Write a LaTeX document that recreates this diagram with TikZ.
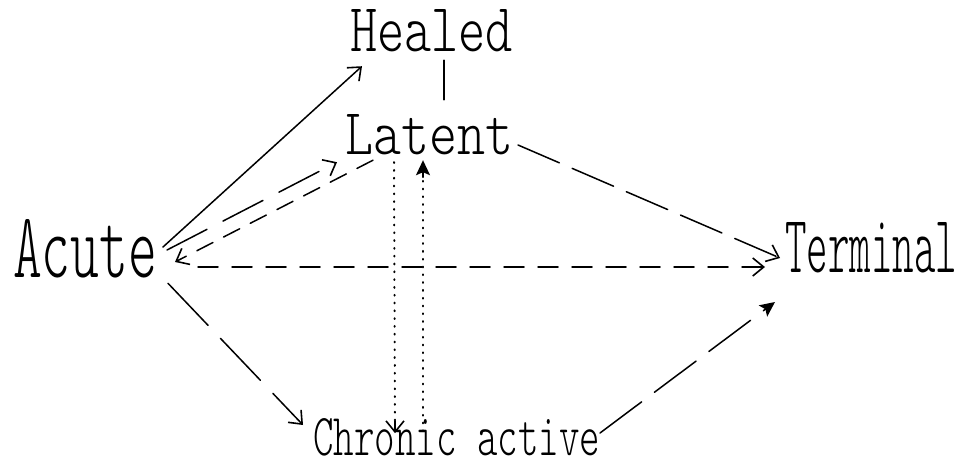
\documentclass[tikz,border=0pt]{standalone}
\usepackage{fontspec}
\usepackage{graphicx}
\usetikzlibrary{arrows.meta}
\newfontfamily\handfont{Latin Modern Mono Light}
\newcommand\handtext[3]{\resizebox{#1pt}{#2pt}{\handfont #3}}
\begin{document}
\begin{tikzpicture}[x=1pt,y=-1pt,
  lbl/.style={inner sep=0pt,outer sep=0pt},
  conn/.style={line width=1.5pt,line cap=round},
  barb/.style={-{Straight Barb[length=11pt,width=18pt,line width=1.6pt]}},
  solidhead/.style={-{Stealth[length=15pt,width=14pt,inset=3pt]}},
  longdash/.style={dash pattern=on 45pt off 18pt},
  shortdash/.style={dash pattern=on 18pt off 12pt},
  middash/.style={dash pattern=on 20pt off 14pt},
  dotline/.style={line width=2pt,line cap=round,dash pattern=on 0.8pt off 7pt}]
\useasboundingbox (0,0) rectangle (963,465);
\fill[white] (0,0) rectangle (963,465);
% nodes
\node[lbl] (Healed) at (431.5,31) {\handtext{163}{42}{Healed}};
\node[lbl] (Latent) at (429,135) {\handtext{168}{40}{Latent}};
\node[lbl] (Acute) at (85,249) {\handtext{144}{58}{Acute}};
\node[lbl] (Terminal) at (871,248) {\handtext{172}{50}{Terminal}};
\node[lbl] (Chronic) at (456.5,437) {\handtext{287}{37}{Chronic active}};
% connectors
\draw[conn,barb] ([shift={(6,-2)}]Acute.east) -- ([shift={(12,14)}]Healed.south west);
\draw[conn,barb,longdash] ([shift={(10,1)}]Acute.east) -- ([shift={(-8,7)}]Latent.south west);
\draw[conn,barb,shortdash] ([shift={(28,5)}]Latent.south west) -- ([shift={(18,13)}]Acute.east);
\draw[conn,barb,middash] ([shift={(41,18)}]Acute.east) -- ([shift={(-20,19)}]Terminal.west);
\draw[conn,barb,dash pattern=on 45pt off 14pt] ([shift={(5,10)}]Latent.east) -- ([shift={(-5,10)}]Terminal.west);
\draw[conn] ([shift={(12.5,8)}]Healed.south) -- ([shift={(15,-15)}]Latent.north);
\draw[dotline] ([shift={(-35,7)}]Latent.south) -- ([shift={(-61.5,11)}]Chronic.north);
\draw[conn,barb] ([shift={(-61.5,3)}]Chronic.north) -- ([shift={(-61.5,15)}]Chronic.north);
\draw[dotline] ([shift={(-33.5,13)}]Chronic.north) -- ([shift={(-6,12)}]Latent.south);
\draw[conn,solidhead] ([shift={(-6,22)}]Latent.south) -- ([shift={(-6,5)}]Latent.south);
\draw[conn,barb,dash pattern=on 58pt off 18pt] ([shift={(11,5)}]Acute.south east) -- ([shift={(-10,-12)}]Chronic.west);
\draw[conn,solidhead,dash pattern=on 52pt off 16pt] ([shift={(0,-4)}]Chronic.east) -- ([shift={(-10,54)}]Terminal.west);
\end{tikzpicture}
\end{document}
